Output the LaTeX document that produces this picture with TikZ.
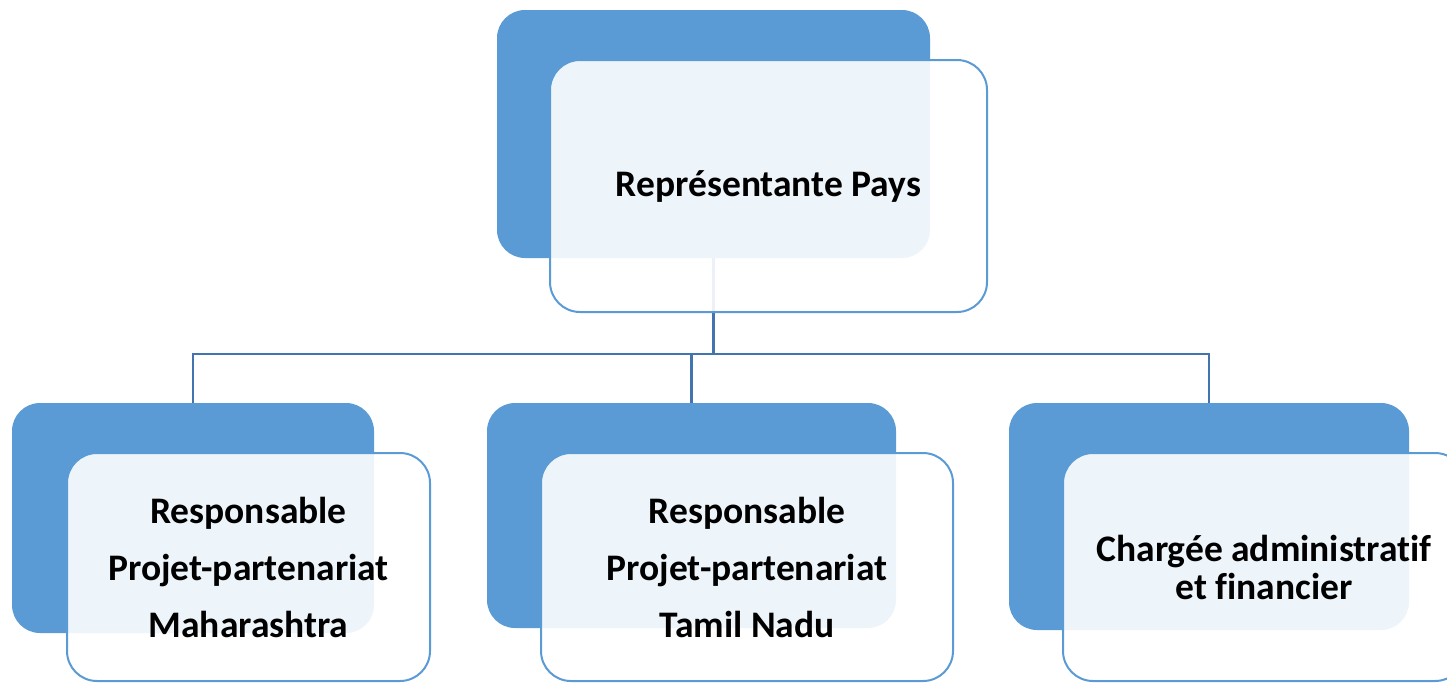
\documentclass[tikz,border=0pt]{standalone}
\usepackage{fontspec}
\setmainfont[Ligatures=NoCommon]{Carlito}
\definecolor{sablue}{HTML}{5B9BD5}
\definecolor{conn}{HTML}{4275B0}
\tikzset{
  backbox/.style={rectangle, rounded corners=28pt, fill=sablue, draw=none, inner sep=0pt},
  frontbox/.style={rectangle, rounded corners=30pt, fill=white, fill opacity=0.9, text opacity=1,
    draw=sablue, line width=2pt, inner sep=0pt, align=center, font=\bfseries\fontsize{37.5}{57}\selectfont},
  link/.style={draw=conn, line width=2.4pt}
}
\begin{document}
\begin{tikzpicture}[x=1pt,y=-1pt]
\useasboundingbox (0,0) rectangle (1447,683);
% back (blue) boxes
\node[backbox, minimum width=433pt, minimum height=248pt] (topb) at (713.5,134) {};
\node[backbox, minimum width=362pt, minimum height=230pt] (lb) at (193,518) {};
\node[backbox, minimum width=409pt, minimum height=225pt] (mb) at (691.5,515.5) {};
\node[backbox, minimum width=400pt, minimum height=227pt] (rb) at (1209,516.5) {};
% connectors
\coordinate (bus) at (713,354);
\draw[link] (topb.south) -- (topb.south |- bus) -| (lb.north);
\draw[link] (topb.south |- bus) -| (mb.north);
\draw[link] (topb.south |- bus) -| (rb.north);
% front (light) boxes
\node[frontbox, minimum width=437pt, minimum height=252pt] (topf) at (768.5,186) {Représentante Pays};
\node[frontbox, minimum width=363pt, minimum height=228pt] (lf) at (248.5,567) {Responsable\\Projet-partenariat\\Maharashtra};
\node[frontbox, minimum width=412pt, minimum height=228pt] (mf) at (747,567) {Responsable\\Projet-partenariat\\Tamil Nadu};
\node[frontbox, minimum width=402pt, minimum height=228pt, font=\bfseries\fontsize{37.5}{38}\selectfont] (rf) at (1264,567) {Chargée administratif\\et financier};
\end{tikzpicture}
\end{document}
